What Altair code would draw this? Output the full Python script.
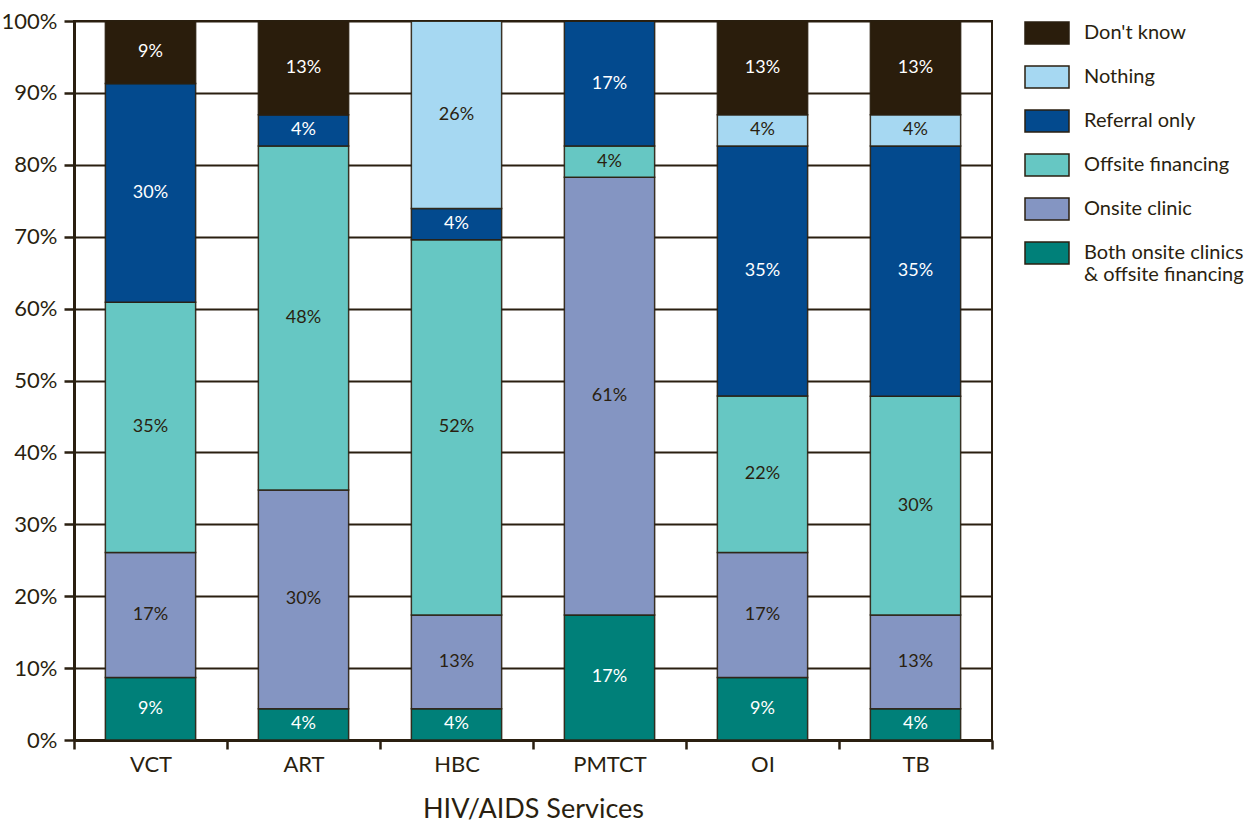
import altair as alt
import pandas as pd

services = ["VCT", "ART", "HBC", "PMTCT", "OI", "TB"]
series = ["Don't know", "Nothing", "Referral only", "Offsite financing",
          "Onsite clinic", "Both onsite clinics & offsite financing"]
colors = ["#2a1d0c", "#a6d8f2", "#034a8e", "#66c7c3", "#8495c2", "#008079"]

both = [8.7, 4.35, 4.35, 17.39, 8.7, 4.35]
onsite = [17.39, 30.43, 13.04, 60.87, 17.39, 13.04]
offsite = [34.78, 47.83, 52.17, 4.35, 21.74, 30.43]
referral = [30.43, 4.35, 4.35, 17.39, 34.78, 34.78]
nothing = [0, 0, 26.09, 0, 4.35, 4.35]
dontknow = [8.7, 13.04, 0, 0, 13.04, 13.04]

vals = {
    "Both onsite clinics & offsite financing": both,
    "Onsite clinic": onsite,
    "Offsite financing": offsite,
    "Referral only": referral,
    "Nothing": nothing,
    "Don't know": dontknow,
}
stack_rank = {s: i for i, s in enumerate(reversed(series))}

rows = []
for s, arr in vals.items():
    for svc, v in zip(services, arr):
        rows.append({"service": svc, "series": s, "value": v,
                     "rank": stack_rank[s], "label": f"{round(v)}%"})
df = pd.DataFrame(rows)

INK = "#2a1f10"
FONT = "Lato"

base = alt.Chart(df).transform_stack(
    stack="value", as_=["y0", "y1"], groupby=["service"],
    sort=[alt.SortField("rank", order="ascending")]
).transform_calculate(
    mid="(datum.y0 + datum.y1) / 2"
)

x_enc = alt.X("service:N", sort=services, title="HIV/AIDS Services",
              scale=alt.Scale(paddingInner=0, paddingOuter=0),
              axis=alt.Axis(labelAngle=0, tickBand="extent", ticks=True,
                            tickSize=9, tickWidth=2.5, labelFontSize=22,
                            labelPadding=5, titleFontSize=27, titlePadding=21,
                            domainWidth=3, domainColor=INK, labelColor=INK,
                            titleColor=INK, titleFontWeight="normal",
                            grid=False))

bars = base.mark_bar(stroke=INK, strokeWidth=1.5, strokeOpacity=0.9,
                     width=alt.RelativeBandSize(0.59)).encode(
    x=x_enc,
    y=alt.Y("y0:Q", scale=alt.Scale(domain=[0, 100], nice=False),
            axis=alt.Axis(values=list(range(0, 101, 10)),
                          labelExpr="datum.value + '%'",
                          tickSize=10, tickWidth=2.5, labelFontSize=22,
                          labelPadding=7, domainWidth=3, domainColor=INK,
                          labelColor=INK, grid=True, gridColor=INK,
                          gridWidth=2.2, gridOpacity=1, title=None)),
    y2="y1:Q",
    color=alt.Color("series:N",
                    scale=alt.Scale(domain=series, range=colors),
                    legend=alt.Legend(
                        title=None, orient="right", offset=32,
                        symbolType="M-1,-1H3V1H-1Z", symbolSize=484,
                        symbolStrokeColor=INK, symbolStrokeWidth=1.5,
                        symbolOpacity=1, labelOffset=36,
                        labelFontSize=20, labelColor=INK, labelFont=FONT,
                        rowPadding=16, labelLimit=300,
                        labelExpr="datum.label == 'Both onsite clinics & offsite financing' ? ['Both onsite clinics', '& offsite financing'] : datum.label")),
    order=alt.Order("rank:Q", sort="ascending"),
)

texts = base.transform_filter("datum.value > 0").transform_calculate(
    tc="indexof([\"Don't know\", 'Referral only', 'Both onsite clinics & offsite financing'], datum.series) >= 0 ? 'white' : '#2a1f10'"
).mark_text(fontSize=18, font=FONT, baseline="middle").encode(
    x=alt.X("service:N", sort=services),
    y="mid:Q",
    text="label:N",
    color=alt.Color("tc:N", scale=None, legend=None),
)

chart = alt.layer(bars, texts).properties(
    width=918, height=719, padding={"left": 1, "top": 10, "right": 5, "bottom": 0}
).configure(font=FONT).configure_view(
    stroke=INK, strokeWidth=2
).configure_axis(labelFont=FONT, titleFont=FONT, tickColor=INK)

chart.save("out.html", embed_options={"renderer": "svg", "actions": False})
